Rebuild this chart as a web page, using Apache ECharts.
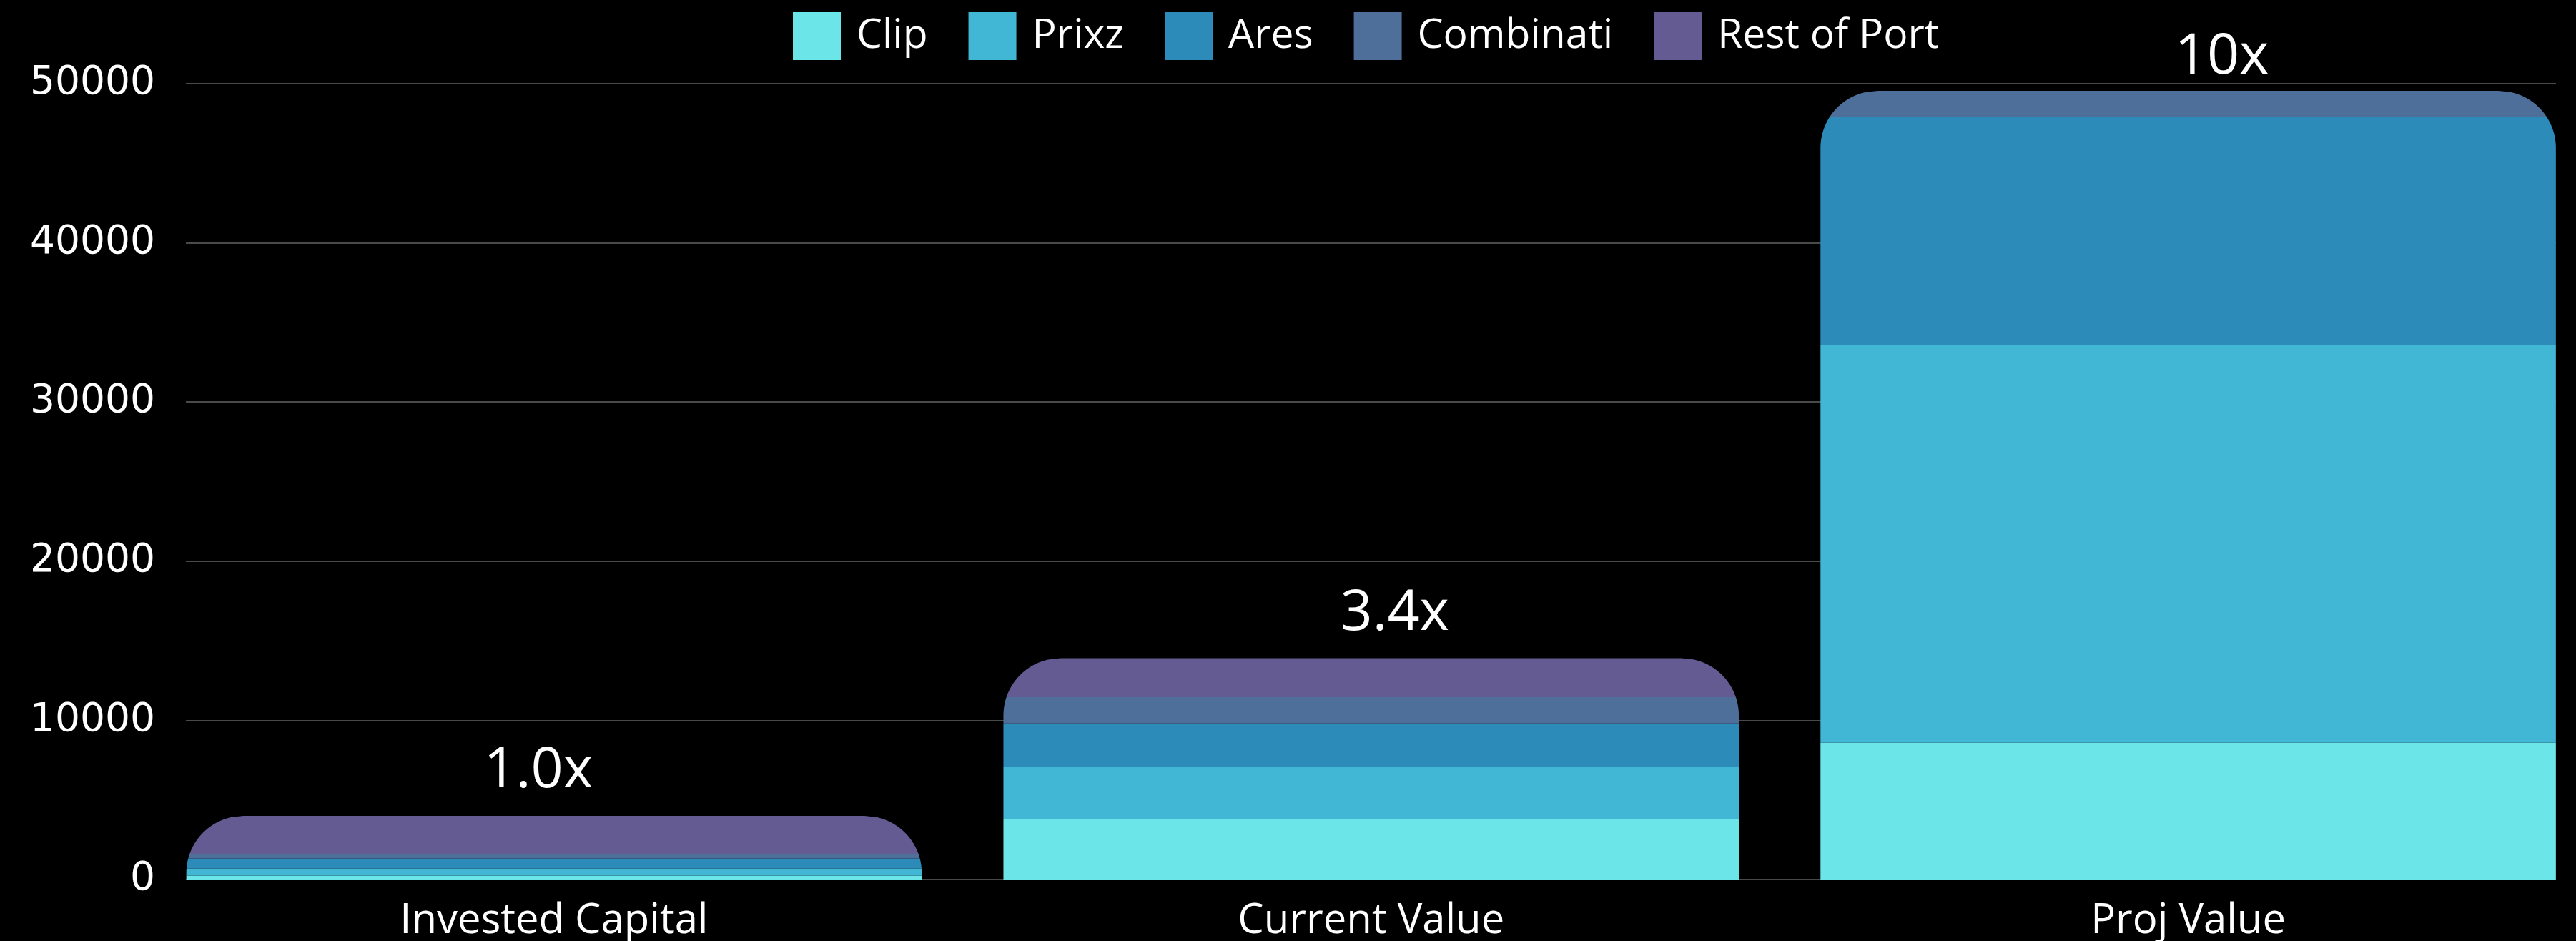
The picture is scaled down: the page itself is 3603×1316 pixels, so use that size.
<!DOCTYPE html>
<html>
<head>
<meta charset="utf-8">
<script src="https://cdn.jsdelivr.net/npm/echarts@6/dist/echarts.min.js"></script>
<style>
html,body{margin:0;padding:0;background:#000;}
#chart{width:3603px;height:1316px;}
</style>
</head>
<body>
<div id="chart"></div>
<script>
// data
var categories = ['Invested Capital', 'Current Value', 'Proj Value'];
var seriesNames = ['Clip', 'Prixz', 'Ares', 'Combinati', 'Rest of Port'];
var clip = [250, 3800, 8600];
var prixz = [450, 3300, 25000];
var ares = [630, 2700, 14300];
var combinati = [270, 1650, 1650];
var restOfPort = [2400, 2450, 0];
var multiples = ['1.0x', '3.4x', '10x'];
var yTicks = [0, 10000, 20000, 30000, 40000, 50000];

var colors = ['#6ce5e8', '#42b7d5', '#2d8bba', '#4f6f9b', '#635b92'];
var stacks = [clip, prixz, ares, combinati, restOfPort];
var labelShift = [-22, 33, 47]; // the multiple labels sit a bit off centre
var cornerR = 80;

function total(i) {
    var t = 0;
    for (var s = 0; s < stacks.length; s++) t += stacks[s][i];
    return t;
}
function base(s, i) {
    var b = 0;
    for (var k = 0; k < s; k++) b += stacks[k][i];
    return b;
}

// piece of the stack, clipped to the rounded outline of the whole bar
function renderPiece(params, api) {
    var s = params.seriesIndex;
    var i = params.dataIndex;
    var v = stacks[s][i];
    if (!v) return;
    var bw = api.size([1, 0])[0] * 0.9;
    var c = api.coord([i, 0]);
    var xl = c[0] - bw / 2, xr = c[0] + bw / 2;
    var y0 = c[1];
    var yTop = api.coord([i, total(i)])[1];
    var yb = api.coord([i, base(s, i)])[1];
    var yt = api.coord([i, base(s, i) + v])[1];
    var r = Math.min(cornerR, y0 - yTop, bw / 2);
    var cy = yTop + r;
    function inset(y) {
        if (y >= cy) return 0;
        var dy = cy - y;
        return r - Math.sqrt(Math.max(0, r * r - dy * dy));
    }
    var ys = [yb, yt];
    for (var j = 0; j <= 40; j++) {
        var yy = yTop + r * j / 40;
        if (yy > yt && yy < yb) ys.push(yy);
    }
    ys.sort(function (a, b) { return b - a; });
    var pts = [];
    for (var k = 0; k < ys.length; k++) pts.push([xl + inset(ys[k]), ys[k]]);
    for (var k2 = ys.length - 1; k2 >= 0; k2--) pts.push([xr - inset(ys[k2]), ys[k2]]);
    return {
        type: 'polygon',
        shape: { points: pts },
        style: { fill: api.visual('color') }
    };
}

function renderLabel(params, api) {
    var i = params.dataIndex;
    var p = api.coord([i, total(i)]);
    return {
        type: 'text',
        x: p[0] + labelShift[i],
        y: Math.max(p[1] - 62, 80),
        style: {
            text: multiples[i],
            fill: '#fff',
            fontSize: 79,
            fontFamily: '"Open Sans", "Noto Sans", sans-serif',
            align: 'center',
            verticalAlign: 'middle'
        }
    };
}

var chart = echarts.init(document.getElementById('chart'));
var series = [];
for (var s = 0; s < seriesNames.length; s++) {
    series.push({
        name: seriesNames[s],
        type: 'custom',
        xAxisIndex: 1,
        yAxisIndex: 1,
        renderItem: renderPiece,
        itemStyle: { color: colors[s] },
        data: stacks[s].map(function (v, i) { return [i, v]; })
    });
}
series.push({
    name: 'multiple',
    type: 'custom',
    xAxisIndex: 1,
    yAxisIndex: 1,
    renderItem: renderLabel,
    silent: true,
    data: categories.map(function (c, i) { return [i, total(i)]; })
});

var option = {
    backgroundColor: '#000',
    animation: false,
    legend: {
        data: seriesNames,
        left: 1104,
        top: 12,
        itemWidth: 67,
        itemHeight: 67,
        itemGap: 57,
        icon: 'rect',
        textStyle: {
            color: '#fff',
            fontSize: 57,
            fontFamily: '"Open Sans", "Noto Sans", sans-serif',
            padding: [0, 0, 6, 17]
        }
    },
    grid: [
        { left: 260, right: 28, top: 117, bottom: 86, outerBoundsMode: 'none' },
        { left: 203.5, width: 3428.5, top: 117, bottom: 86, outerBoundsMode: 'none' }
    ],
    xAxis: [
        { gridIndex: 0, type: 'value', show: false, min: 0, max: 1 },
        {
            gridIndex: 1,
            type: 'category',
            data: categories,
            axisLine: { show: false },
            axisTick: { show: false },
            axisLabel: {
                color: '#fff',
                fontSize: 58,
                fontFamily: '"Open Sans", "Noto Sans", sans-serif',
                margin: 29
            }
        }
    ],
    yAxis: [
        {
            gridIndex: 0,
            type: 'value',
            min: yTicks[0],
            max: yTicks[yTicks.length - 1],
            interval: yTicks[1] - yTicks[0],
            axisLine: { show: false },
            axisTick: { show: false },
            axisLabel: {
                color: '#fff',
                fontSize: 55,
                fontFamily: '"DejaVu Sans", sans-serif',
                margin: 43,
                formatter: function (v) { return String(v); }
            },
            splitLine: { lineStyle: { color: '#4a4a4a', width: 2 } }
        },
        {
            gridIndex: 1,
            type: 'value',
            min: yTicks[0],
            max: yTicks[yTicks.length - 1],
            show: false,
            splitLine: { show: false }
        }
    ],
    series: series
};
chart.setOption(option);
</script>
</body>
</html>
